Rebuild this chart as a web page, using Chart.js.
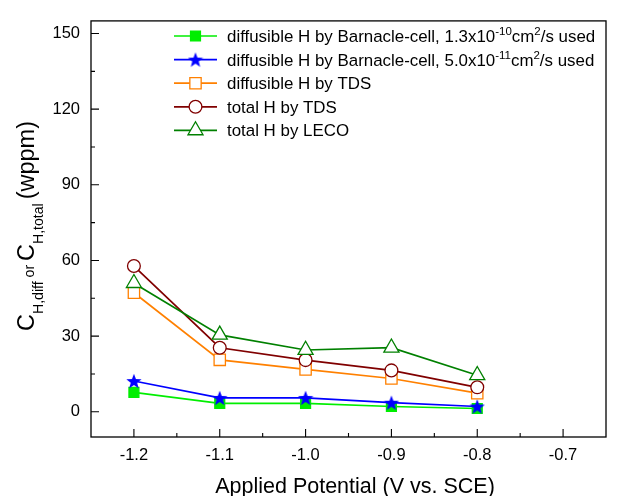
<!DOCTYPE html>
<html><head><meta charset="utf-8">
<script src="https://cdn.jsdelivr.net/npm/chart.js@4.4.1/dist/chart.umd.min.js"></script>
<style>html,body{margin:0;padding:0;background:#fff}#wrap{width:622px;height:496px}</style>
</head><body><div id="wrap"><canvas id="c" width="622" height="496"></canvas></div>
<script>
// ---- data ----
const potentials = [-1.2, -1.1, -1.0, -0.9, -0.8];
const barnacle13 = [7.7, 3.3, 3.3, 2.1, 1.3];
const barnacle50 = [12.2, 5.5, 5.5, 3.6, 2.1];
const diffTDS = [47.2, 20.6, 16.8, 13.2, 7.4];
const totalTDS = [57.8, 25.4, 20.5, 16.4, 9.7];
const totalLECO = [51.0, 30.5, 24.5, 25.4, 14.5];
const xTicks = [-1.2, -1.1, -1.0, -0.9, -0.8, -0.7];
const xMinorTicks = [-1.15, -1.05, -0.95, -0.85, -0.75];
const yTicks = [0, 30, 60, 90, 120, 150];
const yMinorTicks = [15, 45, 75, 105, 135];
const seriesLabels = [
  "diffusible H by Barnacle-cell, 1.3x10^{-10}cm^{2}/s used",
  "diffusible H by Barnacle-cell, 5.0x10^{-11}cm^{2}/s used",
  "diffusible H by TDS",
  "total H by TDS",
  "total H by LECO"
];
const xTitle = "Applied Potential (V vs. SCE)";
const yTitle = "C_{H,diff}~{ or }C_{H,total}~{ }(wppm)";

const FONT = "'Liberation Sans', Arial, Helvetica, sans-serif";

// star marker
function makeStar(size, color) {
  const c = document.createElement('canvas');
  c.width = size; c.height = size;
  const g = c.getContext('2d');
  const cx = size / 2, cy = size / 2 + 0.7, R = size / 2, r = R * 0.42;
  g.beginPath();
  for (let i = 0; i < 10; i++) {
    const ang = -Math.PI / 2 + i * Math.PI / 5;
    const rr = i % 2 === 0 ? R : r;
    g.lineTo(cx + rr * Math.cos(ang), cy + rr * Math.sin(ang));
  }
  g.closePath();
  g.fillStyle = color; g.fill();
  return c;
}
const starImg = makeStar(16, '#0000ff');

function pts(arr) { return potentials.map((x, i) => ({ x: x, y: arr[i] })); }

const styles = [
  { color: '#00ee00', pointStyle: 'rect', radius: 7, fill: '#00ee00' },
  { color: '#0000ff', pointStyle: starImg, radius: 8, fill: '#0000ff' },
  { color: '#ff8000', pointStyle: 'rect', radius: 8, fill: '#ffffff' },
  { color: '#800000', pointStyle: 'circle', radius: 6.4, fill: '#ffffff' },
  { color: '#008000', pointStyle: 'triangle', radius: 8.7, fill: '#ffffff' }
];
const seriesData = [barnacle13, barnacle50, diffTDS, totalTDS, totalLECO];

const datasets = seriesData.map((arr, i) => ({
  label: seriesLabels[i],
  data: pts(arr),
  borderColor: styles[i].color,
  backgroundColor: styles[i].fill,
  borderWidth: 1.7,
  pointStyle: styles[i].pointStyle,
  pointRadius: styles[i].radius,
  pointHoverRadius: styles[i].radius,
  pointBorderColor: styles[i].color,
  pointBackgroundColor: styles[i].fill,
  pointBorderWidth: 1.3,
  tension: 0,
  order: 4 - i
}));

// rich text: _{sub} ^{sup} ~{small}
function parseRich(str) {
  const segs = [];
  const re = /([_^~])\{([^}]*)\}/g;
  let last = 0, m;
  while ((m = re.exec(str)) !== null) {
    if (m.index > last) segs.push({ t: str.slice(last, m.index), k: 'n' });
    segs.push({ t: m[2], k: m[1] === '_' ? 'sub' : m[1] === '^' ? 'sup' : 'small' });
    last = re.lastIndex;
  }
  if (last < str.length) segs.push({ t: str.slice(last), k: 'n' });
  return segs;
}
function drawRich(ctx, str, x, y, size, align, o) {
  o = o || {};
  const ratio = o.ratio || 0.68, subDy = o.subDy || 0.28, supDy = o.supDy || 0.4;
  const segs = parseRich(str);
  const fontOf = k => (k === 'n' ? size : size * ratio) + 'px ' + FONT;
  let w = 0;
  segs.forEach(s => { ctx.font = fontOf(s.k); s.w = ctx.measureText(s.t).width; w += s.w; });
  let cx = align === 'center' ? x - w / 2 : x;
  ctx.textBaseline = 'alphabetic';
  ctx.textAlign = 'left';
  segs.forEach(s => {
    ctx.font = fontOf(s.k);
    const dy = s.k === 'sub' ? size * subDy : s.k === 'sup' ? -size * supDy : 0;
    ctx.fillText(s.t, cx, y + dy);
    cx += s.w;
  });
}

const framePlugin = {
  id: 'frame',
  afterDraw(chart) {
    const ctx = chart.ctx;
    const a = chart.chartArea;
    const xs = chart.scales.x, ys = chart.scales.y;
    ctx.save();
    ctx.strokeStyle = '#000';
    ctx.lineWidth = 1.3;
    ctx.strokeRect(a.left, a.top, a.right - a.left, a.bottom - a.top);
    ctx.lineWidth = 1.1;
    ctx.beginPath();
    xTicks.forEach(v => { const p = xs.getPixelForValue(v); ctx.moveTo(p, a.bottom); ctx.lineTo(p, a.bottom - 8); });
    xMinorTicks.forEach(v => { const p = xs.getPixelForValue(v); ctx.moveTo(p, a.bottom); ctx.lineTo(p, a.bottom - 4); });
    yTicks.forEach(v => { const p = ys.getPixelForValue(v); ctx.moveTo(a.left, p); ctx.lineTo(a.left + 8, p); });
    yMinorTicks.forEach(v => { const p = ys.getPixelForValue(v); ctx.moveTo(a.left, p); ctx.lineTo(a.left + 4, p); });
    ctx.stroke();

    // legend
    const lx0 = 174, lx1 = 217, tx = 227;
    let ly = 36;
    const step = 23.6;
    chart.data.datasets.forEach((ds, i) => {
      ctx.strokeStyle = ds.borderColor;
      ctx.lineWidth = 1.7;
      ctx.beginPath(); ctx.moveTo(lx0, ly); ctx.lineTo(lx1, ly); ctx.stroke();
      ctx.fillStyle = ds.pointBackgroundColor;
      ctx.strokeStyle = ds.pointBorderColor;
      ctx.lineWidth = ds.pointBorderWidth;
      Chart.helpers.drawPoint(ctx, { pointStyle: ds.pointStyle, radius: ds.pointRadius, rotation: 0, borderWidth: ds.pointBorderWidth }, (lx0 + lx1) / 2, ly);
      ctx.fillStyle = '#000';
      drawRich(ctx, ds.label, tx, ly + 6, 16.9, 'left');
      ly += step;
    });

    // axis titles
    ctx.fillStyle = '#000';
    drawRich(ctx, xTitle, 355, 493, 21.5, 'center');
    ctx.translate(34, 226);
    ctx.rotate(-Math.PI / 2);
    drawRich(ctx, yTitle, 0, 0, 23.5, 'center', { ratio: 0.6, subDy: 0.38 });
    ctx.restore();
  }
};

new Chart(document.getElementById('c'), {
  type: 'line',
  data: { datasets: datasets },
  options: {
    responsive: false,
    devicePixelRatio: 1,
    animation: false,
    events: [],
    layout: { padding: { left: 0, top: 9, right: 16, bottom: 0 } },
    plugins: { legend: { display: false }, tooltip: { enabled: false } },
    scales: {
      x: {
        type: 'linear', min: -1.25, max: -0.65,
        grid: { display: false, drawTicks: false },
        border: { display: false },
        afterBuildTicks: s => { s.ticks = xTicks.map(v => ({ value: v })); },
        afterFit: s => { s.height = 59; },
        ticks: { color: '#000', padding: 9, maxRotation: 0, autoSkip: false, font: { family: FONT, size: 16.5 }, callback: v => v.toFixed(1) }
      },
      y: {
        type: 'linear', min: -10, max: 155,
        grid: { display: false, drawTicks: false },
        border: { display: false },
        afterBuildTicks: s => { s.ticks = yTicks.map(v => ({ value: v })); },
        afterFit: s => { s.width = 91; },
        ticks: { color: '#000', padding: 11, autoSkip: false, font: { family: FONT, size: 16.5 }, callback: v => String(v) }
      }
    }
  },
  plugins: [framePlugin]
});
</script>
</body></html>
